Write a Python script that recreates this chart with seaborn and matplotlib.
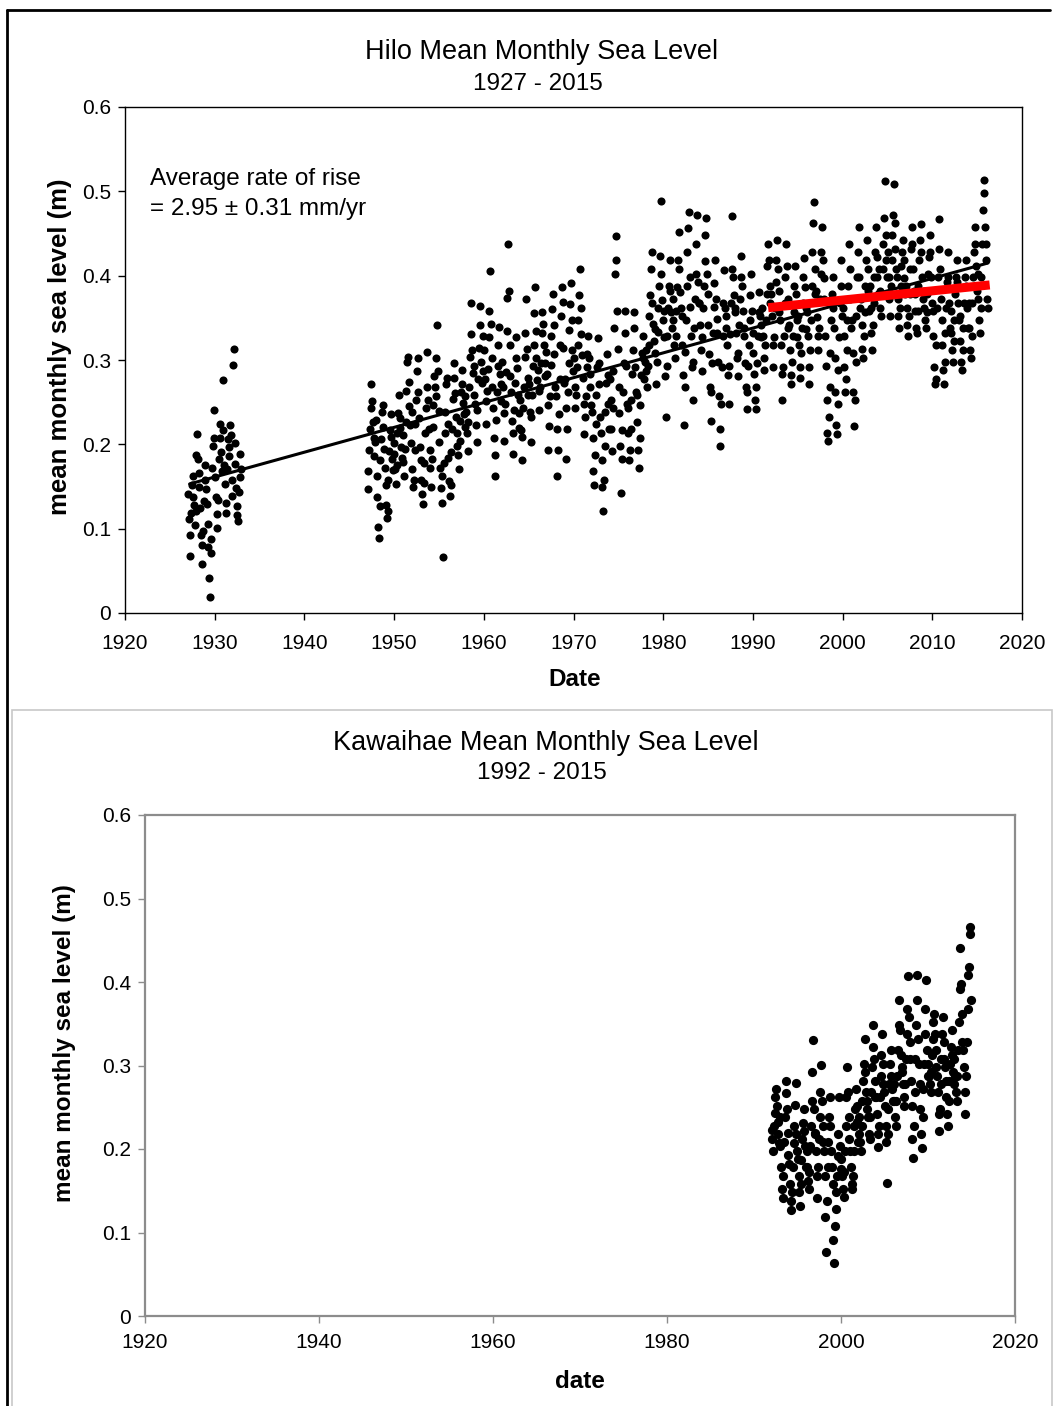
import numpy as np
import pandas as pd
import matplotlib
matplotlib.use("Agg")
import matplotlib.pyplot as plt
import seaborn as sns
from matplotlib.lines import Line2D
from matplotlib.patches import Rectangle
from matplotlib.ticker import FixedLocator, FixedFormatter

# ---------------- DATA ----------------
# Hilo monthly mean sea level (m), first segment starts Jan 1927
hilo_early_start = 1927
hilo_early = [
    0.141, 0.112, 0.068, 0.093, 0.118, 0.152, 0.163, 0.137, 0.128, 0.104, 0.121, 0.187,
    0.212, 0.183, 0.166, 0.149, 0.124, 0.093, 0.081, 0.058, 0.097, 0.133, 0.158, 0.176,
    0.147, 0.129, 0.106, 0.078, 0.042, 0.019, 0.071, 0.088, 0.172, 0.198, 0.241, 0.207,
    0.161, 0.138, 0.117, 0.101, 0.134, 0.183, 0.208, 0.224, 0.191, 0.168, 0.276, 0.217,
    0.176, 0.153, 0.131, 0.119, 0.171, 0.206, 0.197, 0.186, 0.223, 0.211, 0.158, 0.139,
    0.294, 0.313, 0.202, 0.177, 0.148, 0.127, 0.116, 0.109, 0.143, 0.161, 0.188, 0.171,
]
# second segment starts Jan 1947
hilo_late_start = 1947
hilo_late = [
    0.168, 0.147, 0.193, 0.218, 0.243, 0.272, 0.251, 0.226, 0.208, 0.186, 0.203, 0.229,  # 1947
    0.163, 0.138, 0.102, 0.089, 0.127, 0.181, 0.206, 0.238, 0.247, 0.221, 0.194, 0.172,  # 1948
    0.152, 0.128, 0.113, 0.121, 0.158, 0.192, 0.217, 0.236, 0.209, 0.183, 0.169, 0.202,  # 1949
    0.188, 0.171, 0.153, 0.176, 0.214, 0.237, 0.258, 0.231, 0.219, 0.197, 0.184, 0.211,  # 1950
    0.179, 0.162, 0.194, 0.227, 0.263, 0.298, 0.304, 0.274, 0.246, 0.223, 0.201, 0.238,  # 1951
    0.171, 0.149, 0.158, 0.193, 0.224, 0.252, 0.287, 0.302, 0.262, 0.231, 0.197, 0.182,  # 1952
    0.158, 0.141, 0.129, 0.154, 0.178, 0.213, 0.243, 0.268, 0.309, 0.252, 0.218, 0.193,  # 1953
    0.172, 0.149, 0.183, 0.221, 0.247, 0.281, 0.268, 0.257, 0.302, 0.341, 0.287, 0.239,  # 1954
    0.203, 0.172, 0.148, 0.131, 0.162, 0.066, 0.178, 0.213, 0.238, 0.271, 0.279, 0.224,  # 1955
    0.184, 0.157, 0.139, 0.152, 0.191, 0.218, 0.254, 0.279, 0.297, 0.261, 0.232, 0.198,  # 1956
    0.213, 0.187, 0.171, 0.204, 0.228, 0.262, 0.288, 0.272, 0.249, 0.236, 0.221, 0.257,  # 1957
    0.238, 0.214, 0.192, 0.227, 0.268, 0.303, 0.331, 0.368, 0.312, 0.284, 0.258, 0.293,  # 1958
    0.248, 0.223, 0.203, 0.241, 0.277, 0.314, 0.342, 0.364, 0.298, 0.273, 0.287, 0.328,  # 1959
    0.312, 0.277, 0.251, 0.224, 0.263, 0.289, 0.327, 0.358, 0.406, 0.343, 0.302, 0.268,  # 1960
    0.243, 0.208, 0.163, 0.187, 0.229, 0.262, 0.293, 0.318, 0.339, 0.283, 0.251, 0.272,  # 1961
    0.298, 0.268, 0.237, 0.204, 0.248, 0.286, 0.334, 0.373, 0.438, 0.382, 0.318, 0.281,  # 1962
    0.262, 0.228, 0.188, 0.213, 0.241, 0.273, 0.302, 0.327, 0.291, 0.258, 0.237, 0.219,  # 1963
    0.253, 0.217, 0.182, 0.209, 0.243, 0.268, 0.304, 0.332, 0.372, 0.313, 0.279, 0.258,  # 1964
    0.271, 0.238, 0.203, 0.232, 0.258, 0.293, 0.318, 0.356, 0.386, 0.334, 0.302, 0.276,  # 1965
    0.288, 0.263, 0.241, 0.268, 0.297, 0.332, 0.357, 0.343, 0.318, 0.296, 0.281, 0.309,  # 1966
    0.283, 0.247, 0.193, 0.222, 0.257, 0.294, 0.328, 0.361, 0.378, 0.342, 0.307, 0.268,  # 1967
    0.257, 0.218, 0.162, 0.193, 0.236, 0.277, 0.318, 0.352, 0.387, 0.369, 0.314, 0.273,  # 1968
    0.278, 0.243, 0.183, 0.218, 0.262, 0.297, 0.336, 0.366, 0.391, 0.348, 0.312, 0.287,  # 1969
    0.302, 0.268, 0.243, 0.259, 0.292, 0.318, 0.347, 0.377, 0.408, 0.362, 0.331, 0.306,  # 1970
    0.279, 0.248, 0.212, 0.233, 0.257, 0.292, 0.307, 0.328, 0.302, 0.283, 0.268, 0.247,  # 1971
    0.238, 0.207, 0.168, 0.152, 0.187, 0.224, 0.258, 0.292, 0.326, 0.297, 0.271, 0.232,  # 1972
    0.214, 0.181, 0.149, 0.121, 0.158, 0.198, 0.238, 0.273, 0.307, 0.282, 0.248, 0.218,  # 1973
    0.278, 0.253, 0.218, 0.192, 0.243, 0.287, 0.338, 0.402, 0.418, 0.447, 0.358, 0.313,  # 1974
    0.268, 0.237, 0.198, 0.142, 0.183, 0.217, 0.262, 0.297, 0.332, 0.358, 0.293, 0.248,  # 1975
    0.243, 0.213, 0.182, 0.193, 0.218, 0.252, 0.283, 0.312, 0.338, 0.357, 0.292, 0.262,  # 1976
    0.258, 0.227, 0.193, 0.172, 0.208, 0.247, 0.282, 0.308, 0.328, 0.302, 0.277, 0.298,  # 1977
    0.312, 0.287, 0.268, 0.293, 0.318, 0.352, 0.377, 0.408, 0.428, 0.368, 0.343, 0.322,  # 1978
    0.337, 0.308, 0.272, 0.298, 0.333, 0.362, 0.388, 0.423, 0.489, 0.402, 0.371, 0.348,  # 1979
    0.358, 0.327, 0.281, 0.232, 0.293, 0.328, 0.362, 0.388, 0.418, 0.382, 0.357, 0.338,  # 1980
    0.372, 0.348, 0.318, 0.302, 0.329, 0.358, 0.387, 0.418, 0.452, 0.408, 0.381, 0.362,  # 1981
    0.352, 0.318, 0.282, 0.223, 0.268, 0.309, 0.347, 0.388, 0.428, 0.457, 0.476, 0.398,  # 1982
    0.363, 0.328, 0.292, 0.253, 0.298, 0.338, 0.372, 0.402, 0.437, 0.472, 0.392, 0.368,  # 1983
    0.368, 0.342, 0.312, 0.287, 0.327, 0.362, 0.388, 0.417, 0.448, 0.468, 0.402, 0.378,  # 1984
    0.341, 0.307, 0.268, 0.228, 0.262, 0.297, 0.332, 0.363, 0.391, 0.418, 0.372, 0.349,  # 1985
    0.332, 0.298, 0.257, 0.218, 0.198, 0.248, 0.292, 0.328, 0.368, 0.407, 0.362, 0.338,  # 1986
    0.352, 0.318, 0.282, 0.248, 0.293, 0.331, 0.368, 0.408, 0.471, 0.398, 0.377, 0.357,  # 1987
    0.362, 0.332, 0.302, 0.281, 0.308, 0.342, 0.372, 0.398, 0.423, 0.388, 0.358, 0.338,  # 1988
    0.328, 0.297, 0.268, 0.242, 0.262, 0.293, 0.318, 0.348, 0.377, 0.402, 0.358, 0.332,  # 1989
    0.308, 0.283, 0.252, 0.242, 0.268, 0.297, 0.328, 0.357, 0.381, 0.352, 0.327, 0.342,  # 1990
    0.362, 0.328, 0.302, 0.288, 0.318, 0.347, 0.378, 0.412, 0.438, 0.418, 0.388, 0.368,  # 1991
    0.378, 0.352, 0.318, 0.292, 0.327, 0.362, 0.392, 0.418, 0.442, 0.408, 0.382, 0.357,  # 1992
    0.348, 0.318, 0.283, 0.252, 0.292, 0.328, 0.368, 0.398, 0.437, 0.412, 0.372, 0.338,  # 1993
    0.342, 0.312, 0.282, 0.271, 0.298, 0.328, 0.357, 0.388, 0.412, 0.378, 0.348, 0.327,  # 1994
    0.352, 0.318, 0.292, 0.279, 0.308, 0.338, 0.368, 0.398, 0.421, 0.387, 0.362, 0.337,  # 1995
    0.357, 0.328, 0.292, 0.271, 0.312, 0.348, 0.388, 0.428, 0.462, 0.487, 0.408, 0.378,  # 1996
    0.382, 0.351, 0.328, 0.312, 0.338, 0.372, 0.402, 0.428, 0.458, 0.418, 0.397, 0.372,  # 1997
    0.328, 0.293, 0.252, 0.213, 0.204, 0.232, 0.268, 0.308, 0.348, 0.378, 0.398, 0.362,  # 1998
    0.338, 0.302, 0.262, 0.223, 0.212, 0.248, 0.288, 0.327, 0.368, 0.418, 0.388, 0.352,  # 1999
    0.362, 0.328, 0.292, 0.262, 0.278, 0.312, 0.348, 0.388, 0.438, 0.408, 0.372, 0.338,  # 2000
    0.348, 0.308, 0.262, 0.222, 0.253, 0.298, 0.352, 0.398, 0.428, 0.458, 0.398, 0.362,  # 2001
    0.372, 0.342, 0.313, 0.302, 0.328, 0.357, 0.388, 0.418, 0.442, 0.408, 0.382, 0.358,  # 2002
    0.388, 0.362, 0.332, 0.312, 0.342, 0.368, 0.398, 0.428, 0.458, 0.422, 0.398, 0.378,  # 2003
    0.408, 0.382, 0.362, 0.352, 0.378, 0.408, 0.438, 0.468, 0.512, 0.448, 0.418, 0.398,  # 2004
    0.428, 0.398, 0.372, 0.352, 0.388, 0.418, 0.448, 0.472, 0.509, 0.462, 0.432, 0.408,  # 2005
    0.398, 0.372, 0.352, 0.338, 0.362, 0.388, 0.412, 0.428, 0.442, 0.418, 0.397, 0.378,  # 2006
    0.388, 0.362, 0.342, 0.328, 0.352, 0.378, 0.408, 0.432, 0.458, 0.438, 0.408, 0.382,  # 2007
    0.378, 0.358, 0.338, 0.332, 0.358, 0.388, 0.418, 0.442, 0.461, 0.428, 0.398, 0.372,  # 2008
    0.382, 0.362, 0.348, 0.338, 0.357, 0.378, 0.402, 0.422, 0.448, 0.428, 0.398, 0.368,  # 2009
    0.358, 0.328, 0.292, 0.272, 0.278, 0.318, 0.362, 0.398, 0.432, 0.467, 0.408, 0.372,  # 2010
    0.348, 0.318, 0.288, 0.271, 0.298, 0.332, 0.362, 0.392, 0.428, 0.398, 0.368, 0.338,  # 2011
    0.358, 0.332, 0.312, 0.298, 0.322, 0.348, 0.378, 0.398, 0.418, 0.392, 0.368, 0.348,  # 2012
    0.352, 0.322, 0.298, 0.288, 0.312, 0.338, 0.368, 0.398, 0.418, 0.388, 0.362, 0.338,  # 2013
    0.368, 0.338, 0.312, 0.302, 0.328, 0.368, 0.398, 0.428, 0.458, 0.438, 0.412, 0.382,  # 2014
    0.402, 0.372, 0.348, 0.332, 0.362, 0.398, 0.438, 0.478, 0.498, 0.514, 0.458, 0.438,  # 2015
    0.418, 0.372, 0.362,                                                                  # 2016
]

# Kawaihae monthly mean sea level (m), starts Jan 1992
kaw_start = 1992
kaw = [
    0.223, 0.212, 0.198, 0.228, 0.243, 0.262, 0.272, 0.251, 0.232, 0.218, 0.207, 0.238,  # 1992
    0.203, 0.178, 0.152, 0.141, 0.168, 0.208, 0.238, 0.267, 0.281, 0.248, 0.219, 0.193,  # 1993
    0.182, 0.158, 0.138, 0.127, 0.148, 0.178, 0.207, 0.228, 0.253, 0.279, 0.218, 0.198,  # 1994
    0.188, 0.168, 0.148, 0.132, 0.158, 0.187, 0.212, 0.231, 0.248, 0.222, 0.203, 0.178,  # 1995
    0.198, 0.178, 0.162, 0.152, 0.172, 0.203, 0.228, 0.258, 0.292, 0.331, 0.248, 0.219,  # 1996
    0.218, 0.198, 0.168, 0.141, 0.178, 0.212, 0.238, 0.268, 0.301, 0.258, 0.228, 0.208,  # 1997
    0.198, 0.168, 0.118, 0.077, 0.138, 0.178, 0.208, 0.238, 0.262, 0.228, 0.198, 0.178,  # 1998
    0.158, 0.091, 0.063, 0.108, 0.128, 0.148, 0.168, 0.192, 0.218, 0.262, 0.203, 0.176,  # 1999
    0.188, 0.168, 0.152, 0.142, 0.172, 0.198, 0.228, 0.262, 0.298, 0.268, 0.238, 0.212,  # 2000
    0.198, 0.178, 0.158, 0.152, 0.168, 0.198, 0.228, 0.248, 0.272, 0.252, 0.232, 0.208,  # 2001
    0.238, 0.218, 0.208, 0.198, 0.228, 0.258, 0.282, 0.302, 0.332, 0.292, 0.268, 0.248,  # 2002
    0.258, 0.238, 0.218, 0.212, 0.238, 0.268, 0.298, 0.322, 0.348, 0.308, 0.282, 0.262,  # 2003
    0.262, 0.242, 0.218, 0.202, 0.228, 0.262, 0.288, 0.312, 0.338, 0.302, 0.278, 0.268,  # 2004
    0.252, 0.228, 0.208, 0.159, 0.218, 0.248, 0.278, 0.302, 0.318, 0.288, 0.272, 0.258,  # 2005
    0.278, 0.258, 0.238, 0.228, 0.258, 0.288, 0.318, 0.348, 0.378, 0.342, 0.312, 0.292,  # 2006
    0.298, 0.278, 0.262, 0.252, 0.278, 0.308, 0.338, 0.368, 0.407, 0.358, 0.328, 0.308,  # 2007
    0.282, 0.252, 0.212, 0.189, 0.228, 0.268, 0.308, 0.348, 0.378, 0.408, 0.332, 0.302,  # 2008
    0.278, 0.248, 0.218, 0.201, 0.238, 0.272, 0.302, 0.338, 0.368, 0.402, 0.318, 0.288,  # 2009
    0.302, 0.288, 0.278, 0.268, 0.292, 0.312, 0.332, 0.352, 0.362, 0.338, 0.318, 0.298,  # 2010
    0.288, 0.268, 0.242, 0.222, 0.248, 0.278, 0.308, 0.338, 0.358, 0.328, 0.308, 0.298,  # 2011
    0.282, 0.262, 0.242, 0.228, 0.258, 0.282, 0.302, 0.322, 0.342, 0.312, 0.292, 0.278,  # 2012
    0.308, 0.288, 0.268, 0.258, 0.288, 0.318, 0.352, 0.392, 0.441, 0.398, 0.362, 0.328,  # 2013
    0.318, 0.298, 0.268, 0.242, 0.288, 0.328, 0.368, 0.408, 0.418, 0.466, 0.458, 0.378,  # 2014
]

# fitted trend lines (year, m)
trend_years = [1927.2, 2016.2]
trend_vals = [0.153, 0.415]
recent_years = [1991.7, 2016.4]
recent_vals = [0.362, 0.389]

x_ticks_top = [1920, 1930, 1940, 1950, 1960, 1970, 1980, 1990, 2000, 2010, 2020]
x_ticks_bottom = [1920, 1940, 1960, 1980, 2000, 2020]
y_ticks = [0, 0.1, 0.2, 0.3, 0.4, 0.5, 0.6]
y_tick_labels = ["0", "0.1", "0.2", "0.3", "0.4", "0.5", "0.6"]


def monthly_dates(start_year, values):
    return [start_year + (i + 0.5) / 12.0 for i in range(len(values))]


hilo_df = pd.DataFrame({
    "date": monthly_dates(hilo_early_start, hilo_early) + monthly_dates(hilo_late_start, hilo_late),
    "level": hilo_early + hilo_late,
})
kaw_df = pd.DataFrame({"date": monthly_dates(kaw_start, kaw), "level": kaw})

# ---------------- STYLE ----------------
sns.set_style("white")
plt.rcParams["font.family"] = ["Liberation Sans", "DejaVu Sans"]
plt.rcParams["text.color"] = "black"
plt.rcParams["axes.labelcolor"] = "black"
plt.rcParams["xtick.color"] = "black"
plt.rcParams["ytick.color"] = "black"

W, H = 1055, 1406
fig = plt.figure(figsize=(W / 100, H / 100), dpi=100)
fig.patch.set_facecolor("white")


def fx(px):
    return px / W


def fy(py):
    return 1 - py / H


ax1 = fig.add_axes([fx(125), fy(613), fx(1022) - fx(125), fy(107) - fy(613)])
ax2 = fig.add_axes([fx(145), fy(1316), fx(1015) - fx(145), fy(815) - fy(1316)])

# top chart
sns.scatterplot(data=hilo_df, x="date", y="level", ax=ax1, color="black",
                s=34, linewidth=0, legend=False, zorder=3)
sns.lineplot(x=trend_years, y=trend_vals, ax=ax1, color="black", linewidth=2.2, zorder=4)
sns.lineplot(x=recent_years, y=recent_vals, ax=ax1, color="#ff0000", linewidth=6.5,
             zorder=5, solid_capstyle="butt")

# bottom chart
sns.scatterplot(data=kaw_df, x="date", y="level", ax=ax2, color="black",
                s=44, linewidth=0, legend=False, zorder=3)

for ax, xt, spc, lw, xpad in [(ax1, x_ticks_top, "black", 1.0, 10),
                              (ax2, x_ticks_bottom, "#8c8c8c", 1.6, 7)]:
    ax.set_xlim(1920, 2020)
    ax.set_ylim(0, 0.6)
    ax.xaxis.set_major_locator(FixedLocator(xt))
    ax.set_xticklabels([str(v) for v in xt])
    ax.yaxis.set_major_locator(FixedLocator(y_ticks))
    ax.yaxis.set_major_formatter(FixedFormatter(y_tick_labels))
    ax.set_xlabel("")
    ax.set_ylabel("")
    ax.tick_params(axis="both", which="major", direction="out", length=5, width=1,
                   color=spc, labelsize=15, labelcolor="black",
                   bottom=True, left=True, top=False, right=False)
    ax.tick_params(axis="x", pad=xpad)
    ax.tick_params(axis="y", pad=5)
    for s in ax.spines.values():
        s.set_visible(True)
        s.set_color(spc)
        s.set_linewidth(lw)
    ax.grid(False)
    ax.set_facecolor("white")

# annotation
fig.text(fx(150), fy(179), "Average rate of rise", fontsize=17.5, ha="left", va="center", color="black")
fig.text(fx(150), fy(209), "= 2.95 ± 0.31 mm/yr", fontsize=17.5, ha="left", va="center", color="black")

# titles and labels
fig.text(fx(542), fy(52), "Hilo Mean Monthly Sea Level", fontsize=19.5, ha="center", va="center", color="black")
fig.text(fx(538), fy(84), "1927 - 2015", fontsize=17.5, ha="center", va="center", color="black")
fig.text(fx(575), fy(680), "Date", fontsize=17.5, fontweight="bold", ha="center", va="center", color="black")
fig.text(fx(60), fy(347), "mean monthly sea level (m)", fontsize=18.5, fontweight="bold",
         rotation=90, ha="center", va="center", color="black")

fig.text(fx(546), fy(743), "Kawaihae Mean Monthly Sea Level", fontsize=19.5, ha="center", va="center", color="black")
fig.text(fx(542), fy(773), "1992 - 2015", fontsize=17.5, ha="center", va="center", color="black")
fig.text(fx(580), fy(1382), "date", fontsize=17.5, fontweight="bold", ha="center", va="center", color="black")
fig.text(fx(65), fy(1043), "mean monthly sea level (m)", fontsize=17.5, fontweight="bold",
         rotation=90, ha="center", va="center", color="black")

# panel frames
fig.add_artist(Rectangle((fx(12), fy(1410)), fx(1052) - fx(12), fy(710) - fy(1410),
                         transform=fig.transFigure, fill=False, edgecolor="#c8c8c8", linewidth=1.2))
fig.add_artist(Line2D([fx(7), fx(7)], [0, fy(10)], transform=fig.transFigure, color="black", linewidth=2))
fig.add_artist(Line2D([fx(7), fx(1050)], [fy(10), fy(10)], transform=fig.transFigure, color="black", linewidth=2))

fig.savefig("out.png", dpi=100, facecolor="white")
